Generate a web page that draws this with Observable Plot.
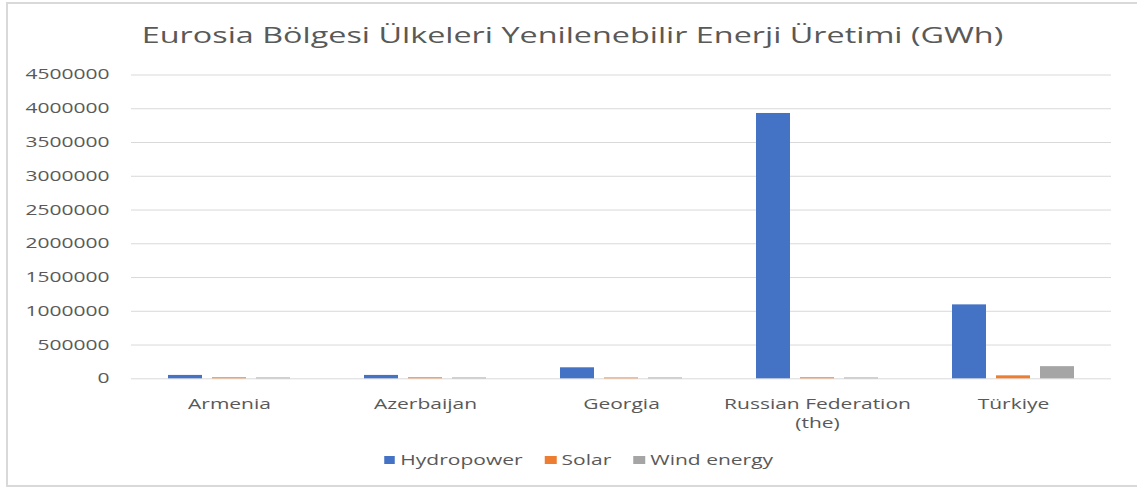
<!DOCTYPE html>
<html><head><meta charset="utf-8">
<script src="https://cdn.jsdelivr.net/npm/d3@7"></script>
<script src="https://cdn.jsdelivr.net/npm/@observablehq/plot@0.6"></script>
<style>
html,body{margin:0;padding:0;background:#fff;overflow:hidden;}
#wrap{position:relative;width:1137px;height:488px;font-family:"Open Sans",sans-serif;color:#595959;overflow:hidden;}
#frame{position:absolute;left:6px;top:2px;width:1140px;height:485px;border:2px solid #d9d9d9;box-sizing:border-box;}
#chart{position:absolute;left:0;top:0;}
#title{position:absolute;left:4px;top:21px;width:1137px;text-align:center;font-size:21px;transform:scaleX(1.54);transform-origin:center;white-space:nowrap;}
#legend{position:absolute;left:10px;top:450px;width:1137px;display:flex;justify-content:center;font-size:14px;transform:scaleX(1.5);transform-origin:center;}
.item{display:flex;align-items:center;margin:0 7.5px;}
.sw{width:7.5px;height:8px;margin-right:3.5px;}
</style>
</head><body>
<div id="wrap">
  <div id="frame"></div>
  <div id="chart"></div>
  <div id="title">Eurosia Bölgesi Ülkeleri Yenilenebilir Enerji Üretimi (GWh)</div>
  <div id="legend"></div>
</div>
<script>
const countries = ["Armenia", "Azerbaijan", "Georgia", "Russian Federation\n(the)", "Türkiye"];
const series = ["Hydropower", "Solar", "Wind energy"];
const hydropower = [50000, 50000, 163000, 3930000, 1095000];
const solar = [15000, 15000, 12000, 15000, 44000];
const wind = [12000, 12000, 12000, 12000, 180000];
const yTicks = [0, 500000, 1000000, 1500000, 2000000, 2500000, 3000000, 3500000, 4000000, 4500000];
const colors = ["#4472C4", "#ED7D31", "#A5A5A5"];

const seriesValues = [hydropower, solar, wind];
const data = countries.flatMap((c, i) =>
  series.map((s, j) => ({country: c, series: s, value: seriesValues[j][i]}))
);

const chart = Plot.plot({
  width: 1137,
  height: 440,
  marginTop: 74.5,
  marginBottom: 61.7,
  marginLeft: 130,
  marginRight: 25,
  style: {fontFamily: '"Open Sans", sans-serif', color: "#595959", background: "transparent", overflow: "visible"},
  fx: {domain: countries, padding: 0, label: null},
  x: {domain: series, paddingInner: 0.236, paddingOuter: 0.827, axis: null},
  y: {domain: [0, 4500000], axis: null},
  color: {domain: series, range: colors},
  marks: [
    Plot.gridY(yTicks, {stroke: "#d9d9d9", strokeOpacity: 1, strokeWidth: 1}),
    Plot.axisY(yTicks, {tickSize: 0, tickPadding: 22, tickFormat: d => String(d), fontSize: 14, label: null}),
    Plot.axisFx({anchor: "bottom", tickSize: 0, tickPadding: 16, fontSize: 14, lineHeight: 1.4, label: null}),
    Plot.barY(data, {fx: "country", x: "series", y: "value", fill: "series"})
  ]
});

d3.select(chart).selectAll("text").each(function () {
  const t = this.getAttribute("transform") || "";
  const x = +(this.getAttribute("x") || 0);
  this.setAttribute("transform", `${t} translate(${x},0) scale(1.5,1) translate(${-x},0)`);
});

document.getElementById("chart").appendChild(chart);

const legend = d3.select("#legend");
series.forEach((s, i) => {
  const it = legend.append("div").attr("class", "item");
  it.append("div").attr("class", "sw").style("background", colors[i]);
  it.append("span").text(s);
});
</script>
</body></html>
